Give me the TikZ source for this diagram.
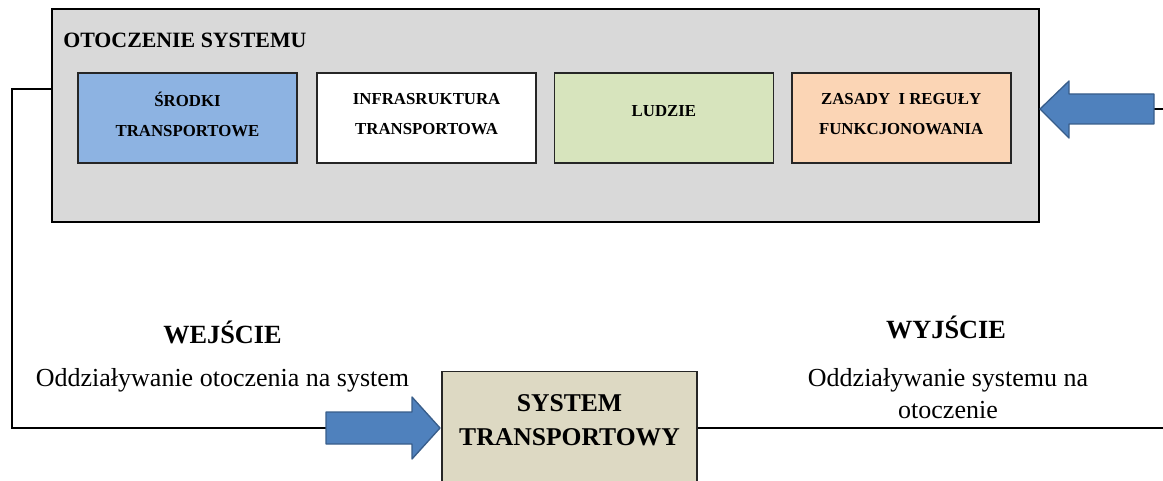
\documentclass[tikz,border=0pt]{standalone}
\usepackage{fontspec}
\setmainfont{Liberation Serif}
\usetikzlibrary{positioning}

\definecolor{envgray}{HTML}{D9D9D9}
\definecolor{srodkiblue}{HTML}{8DB3E2}
\definecolor{ludziegreen}{HTML}{D7E4BD}
\definecolor{zasadyorange}{HTML}{FBD5B5}
\definecolor{systemtan}{HTML}{DDD9C3}
\definecolor{arrowblue}{HTML}{4F81BD}
\definecolor{arrowedge}{HTML}{385D8A}

\begin{document}
\begin{tikzpicture}[x=0.75pt, y=-0.75pt,
    envbox/.style={draw=black, line width=1.5pt, fill=envgray,
      minimum width=740.25pt, minimum height=159.75pt},
    subbox/.style={draw=black!85, line width=1.3pt, minimum width=164.25pt,
      minimum height=67.5pt, align=center, text depth=6pt,
      font=\bfseries\fontsize{12.6}{22.5}\selectfont},
    sysbox/.style={draw=black!85, line width=1.1pt, fill=systemtan,
      minimum width=191.25pt, minimum height=105pt},
    headtext/.style={font=\bfseries\fontsize{19.7}{24}\selectfont, inner sep=0pt},
    desctext/.style={font=\fontsize{19.5}{24}\selectfont, align=center, inner sep=0pt},
    conn/.style={line width=1.5pt, black},
    blockarrow/.style={fill=arrowblue, draw=arrowedge, line width=1pt, line join=round},
    node distance=12.4pt]
  \useasboundingbox (0,0) rectangle (1163,481);

  % otoczenie systemu
  \node[envbox] (env) at (545.5,115.5) {};
  \node[font=\bfseries\fontsize{16.4}{20}\selectfont, inner sep=0pt, anchor=west]
    (envtitle) at (63,40) {OTOCZENIE SYSTEMU};
  \node[subbox, fill=srodkiblue] (srodki) at (187.5,118) {ŚRODKI\\TRANSPORTOWE};
  \node[subbox, fill=white, right=13.8pt of srodki] (infra) {INFRASRUKTURA\\TRANSPORTOWA};
  \node[subbox, fill=ludziegreen, right=of infra] (ludzie) {};
  \node[font=\bfseries\fontsize{12.6}{22.5}\selectfont]
    (ludzietxt) at ([yshift=5pt]ludzie.center) {LUDZIE};
  \node[subbox, fill=zasadyorange, right=of ludzie] (zasady) {ZASADY~~I REGUŁY\\FUNKCJONOWANIA};

  % system transportowy
  \node[sysbox, anchor=north] (sys) at (569.5,371) {};
  \node[font=\bfseries\fontsize{19.2}{25.5}\selectfont, align=center]
    (systxt) at (569.5,420) {SYSTEM\\TRANSPORTOWY};

  % wejscie / wyjscie
  \node[headtext] (wej) at (222.5,332) {WEJŚCIE};
  \node[desctext] (wejdesc) at (222.5,380) {Oddziaływanie otoczenia na system};
  \node[headtext] (wyj) at (946,327) {WYJŚCIE};
  \node[desctext] (wyjdesc) at (948,394) {Oddziaływanie systemu na\\otoczenie};

  % connectors
  \coordinate (envout) at (env.west |- 0,89);
  \coordinate (loopcorner) at (12,428);
  \coordinate (intail) at (340,428);
  \coordinate (intip) at (440,428);
  \coordinate (outtip) at (env.east |- 0,109);
  \coordinate (outtail) at (1150,109);
  \coordinate (rightedge) at (1163,109);
  \coordinate (bottomedge) at (1163,428);
  \draw[conn] (envout) -| (loopcorner) -- (intail);
  \draw[conn] (sys.east |- intip) -- (bottomedge);
  \draw[conn] (outtail) -- (rightedge);

  % block arrows
  \draw[blockarrow] (intip) -- ++(-28,-31) -- ++(0,15) -- ++(-86,0) -- ++(0,32)
    -- ++(86,0) -- ++(0,15) -- cycle;
  \draw[blockarrow] (outtip) -- ++(29,-28) -- ++(0,13) -- ++(85,0) -- ++(0,30)
    -- ++(-85,0) -- ++(0,14) -- cycle;
\end{tikzpicture}
\end{document}
